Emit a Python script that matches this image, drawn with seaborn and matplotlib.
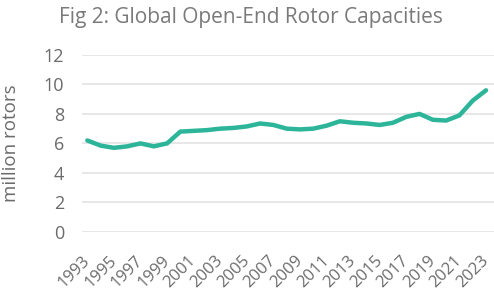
import matplotlib
matplotlib.use('Agg')
import matplotlib.pyplot as plt
import matplotlib.transforms as mtransforms
import seaborn as sns
import pandas as pd

# Fig 2 数据：全球转杯纺转子产能（百万个）
years = list(range(1993, 2024))
capacity = [6.2, 5.85, 5.7, 5.8, 6.0, 5.8, 6.0, 6.8, 6.85, 6.9, 7.0,
            7.05, 7.15, 7.35, 7.25, 7.0, 6.95, 7.0, 7.2, 7.5, 7.4,
            7.35, 7.25, 7.4, 7.8, 8.0, 7.6, 7.55, 7.9, 8.9, 9.6]
tick_years = list(range(1993, 2024, 2))
y_ticks = [0, 2, 4, 6, 8, 10, 12]

sns.set_theme(style='white')
plt.rcParams['font.family'] = ['Open Sans', 'DejaVu Sans']

text_color = '#6b6b6b'
line_color = '#2db59a'

df = pd.DataFrame({'year': years, 'capacity': capacity})

fig = plt.figure(figsize=(4.94, 3.0), dpi=100)
ax = fig.add_axes([0.166, 0.227, 0.834, 0.59])

sns.lineplot(data=df, x='year', y='capacity', ax=ax, color=line_color, linewidth=3.2)

ax.set_ylim(0, 12)
ax.set_xlim(1992.6, 2023.6)
ax.set_yticks(y_ticks)
ax.set_xticks(tick_years)
ax.set_xticklabels([str(y) for y in tick_years], rotation=45, ha='right',
                   rotation_mode='anchor', fontsize=12, color=text_color)
ax.tick_params(axis='y', labelsize=13, labelcolor=text_color, length=0, pad=13)
ax.tick_params(axis='x', length=0, pad=15)
ax.yaxis.grid(True, color='#e3e3e3', linewidth=1.2)
ax.xaxis.grid(False)
for s in ax.spines.values():
    s.set_visible(False)

# x 轴标签稍微左移，避免最后一个被截掉
shift = mtransforms.ScaledTranslation(-4 / 72, 0, fig.dpi_scale_trans)
for lbl in ax.get_xticklabels():
    lbl.set_transform(lbl.get_transform() + shift)

ax.set_xlabel('')
ax.set_ylabel('million rotors', fontsize=13.5, color=text_color)
ax.yaxis.set_label_coords(-0.15, 0.5)

fig.text(0.508, 0.942, 'Fig 2: Global Open-End Rotor Capacities', ha='center', va='center',
         fontsize=15, color='#7a7a7a')

plt.savefig('out.png', dpi=100)
plt.close()
